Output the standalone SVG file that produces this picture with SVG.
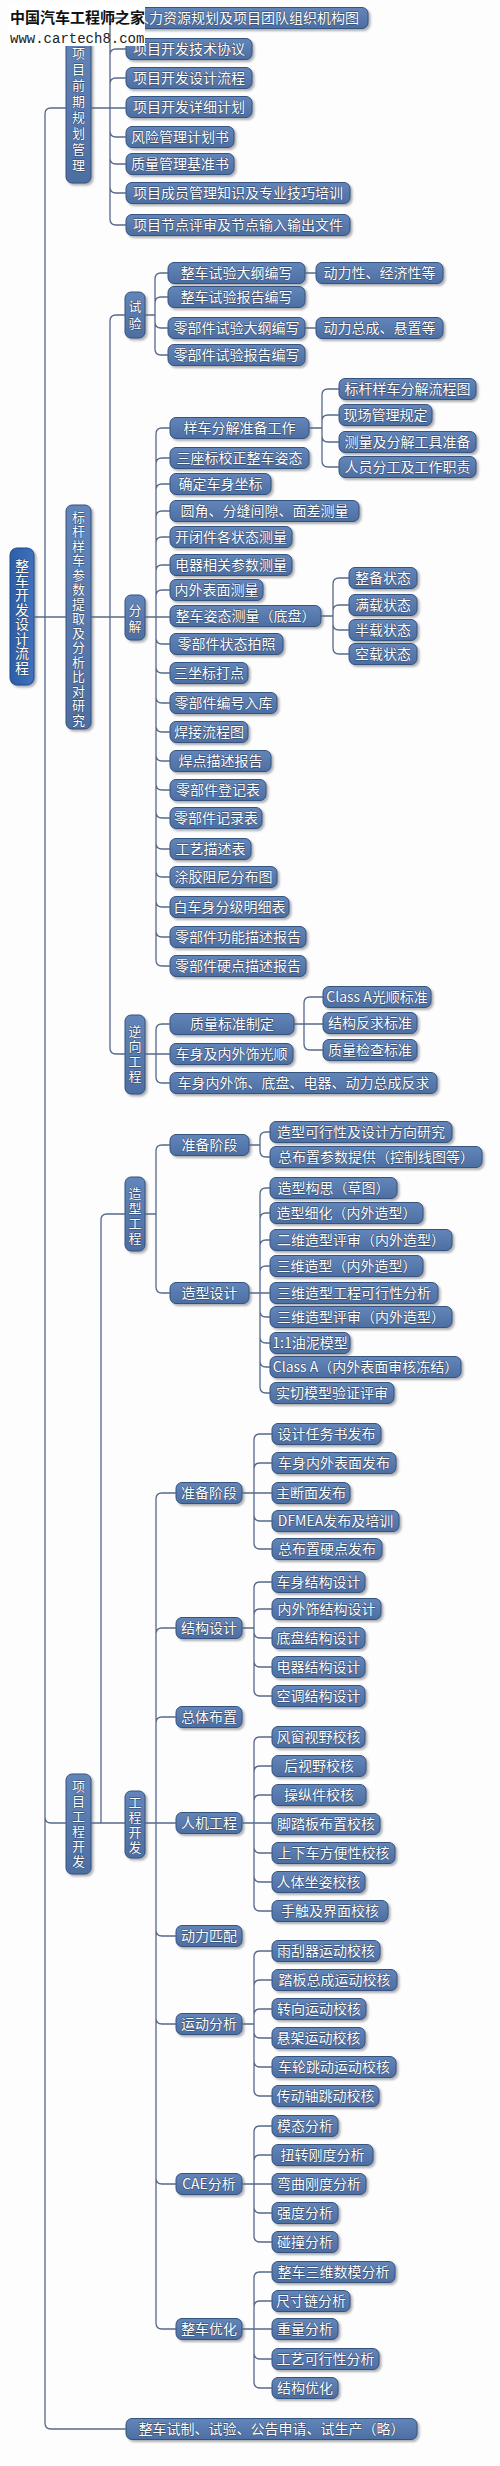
<svg xmlns="http://www.w3.org/2000/svg" width="500" height="2466" viewBox="0 0 500 2466">
<style>
.bg{fill:#fdfdfe}
.b{fill:url(#g);stroke:#34527f;stroke-width:1;rx:6px;filter:url(#ds)}
.r{fill:url(#gr);stroke:#1f4a8a;stroke-width:1;rx:7px;filter:url(#ds)}
.t{font-family:"Noto Sans CJK SC","Noto Sans",sans-serif;font-size:14px;fill:#fff;text-anchor:middle;stroke:#2b4266;stroke-width:0.8px;paint-order:stroke}
.v{font-family:"Noto Sans CJK SC","Noto Sans",sans-serif;font-size:13px;fill:#fff;text-anchor:middle;stroke:#2b4266;stroke-width:0.8px;paint-order:stroke}
.c{fill:none;stroke:#56698a;stroke-width:1.3}
.w1{font-family:"Noto Sans CJK SC",sans-serif;font-size:15px;font-weight:bold;fill:#111}
.w2{font-family:"Liberation Mono",monospace;font-size:14px;fill:#222}
</style>
<defs>
<linearGradient id="g" x1="0" y1="0" x2="0" y2="1"><stop offset="0" stop-color="#6386ba"/><stop offset="1" stop-color="#4d6ea2"/></linearGradient>
<linearGradient id="gr" x1="0" y1="0" x2="1" y2="0"><stop offset="0" stop-color="#2c5ea8"/><stop offset="1" stop-color="#3f72bd"/></linearGradient>
<filter id="ds" x="-20%" y="-30%" width="150%" height="170%"><feDropShadow dx="2" dy="2" stdDeviation="1" flood-color="#4a4f58" flood-opacity="0.45"/></filter>
</defs>
<rect class="bg" x="0" y="0" width="500" height="2466"/>

<g id="nodes">
<g id="n-root"><rect class="r" x="10" y="548" width="24" height="137"/><text class="t" x="22 22 22 22 22 22 22 22" y="571 585.5 600 614.5 629 643.5 658 672.5">整车开发设计流程</text></g>

<g id="n-a"><rect class="b" x="66" y="30" width="25" height="153"/><text class="v" x="78.5 78.5 78.5 78.5 78.5 78.5 78.5 78.5" y="58 74 90 106 122 138 154 170">项目前期规划管理</text></g>
<g id="n-a1"><rect class="b" x="126" y="7.5" width="242" height="21"/><text class="t" x="247" y="23">人力资源规划及项目团队组织机构图</text></g>
<g id="n-a2"><rect class="b" x="126" y="38.5" width="126" height="21"/><text class="t" x="189" y="54">项目开发技术协议</text></g>
<g id="n-a3"><rect class="b" x="126" y="67.5" width="126" height="21"/><text class="t" x="189" y="83">项目开发设计流程</text></g>
<g id="n-a4"><rect class="b" x="126" y="96.5" width="126" height="21"/><text class="t" x="189" y="112">项目开发详细计划</text></g>
<g id="n-a5"><rect class="b" x="126" y="126.5" width="108" height="21"/><text class="t" x="180" y="142">风险管理计划书</text></g>
<g id="n-a6"><rect class="b" x="126" y="153.5" width="108" height="21"/><text class="t" x="180" y="169">质量管理基准书</text></g>
<g id="n-a7"><rect class="b" x="126" y="182.5" width="224" height="21"/><text class="t" x="238" y="198">项目成员管理知识及专业技巧培训</text></g>
<g id="n-a8"><rect class="b" x="126" y="214.5" width="224" height="21"/><text class="t" x="238" y="230">项目节点评审及节点输入输出文件</text></g>

<g id="n-b"><rect class="b" x="66" y="505" width="25" height="224"/><text class="v" x="78.5 78.5 78.5 78.5 78.5 78.5 78.5 78.5 78.5 78.5 78.5 78.5 78.5 78.5 78.5" y="521.5 536 550.5 565 579.5 594 608.5 623 637.5 652 666.5 681 695.5 710 724.5">标杆样车参数提取及分析比对研究</text></g>

<g id="n-t"><rect class="b" x="125" y="292" width="20" height="46"/><text class="v" x="135 135" y="310.5 327.5">试验</text></g>
<g id="n-t1"><rect class="b" x="168" y="262.5" width="137" height="21"/><text class="t" x="236.5" y="278">整车试验大纲编写</text></g>
<g id="n-t2"><rect class="b" x="168" y="286.5" width="137" height="21"/><text class="t" x="236.5" y="302">整车试验报告编写</text></g>
<g id="n-t3"><rect class="b" x="168" y="317.5" width="137" height="21"/><text class="t" x="236.5" y="333">零部件试验大纲编写</text></g>
<g id="n-t4"><rect class="b" x="168" y="344.5" width="137" height="21"/><text class="t" x="236.5" y="360">零部件试验报告编写</text></g>
<g id="n-t1a"><rect class="b" x="316" y="262.5" width="127" height="21"/><text class="t" x="379.5" y="278">动力性、经济性等</text></g>
<g id="n-t3a"><rect class="b" x="316" y="317.5" width="127" height="21"/><text class="t" x="379.5" y="333">动力总成、悬置等</text></g>

<g id="n-d"><rect class="b" x="125" y="595" width="20" height="45"/><text class="v" x="135 135" y="614.5 630.5">分解</text></g>
<g id="n-d1"><rect class="b" x="170" y="417.5" width="139" height="21"/><text class="t" x="239.5" y="433">样车分解准备工作</text></g>
<g id="n-d2"><rect class="b" x="170" y="447.5" width="139" height="21"/><text class="t" x="239.5" y="463">三座标校正整车姿态</text></g>
<g id="n-d3"><rect class="b" x="170" y="473.5" width="101" height="21"/><text class="t" x="220.5" y="489">确定车身坐标</text></g>
<g id="n-d4"><rect class="b" x="170" y="500.5" width="189" height="21"/><text class="t" x="264.5" y="516">圆角、分缝间隙、面差测量</text></g>
<g id="n-d5"><rect class="b" x="170" y="526.5" width="122" height="21"/><text class="t" x="231" y="542">开闭件各状态测量</text></g>
<g id="n-d6"><rect class="b" x="170" y="554.5" width="122" height="21"/><text class="t" x="231" y="570">电器相关参数测量</text></g>
<g id="n-d7"><rect class="b" x="170" y="579.5" width="93" height="21"/><text class="t" x="216.5" y="595">内外表面测量</text></g>
<g id="n-d8"><rect class="b" x="170" y="605.5" width="151" height="21"/><text class="t" x="245.5" y="621">整车姿态测量（底盘）</text></g>
<g id="n-d9"><rect class="b" x="170" y="633.5" width="113" height="21"/><text class="t" x="226.5" y="649">零部件状态拍照</text></g>
<g id="n-d10"><rect class="b" x="170" y="662.5" width="78" height="21"/><text class="t" x="209" y="678">三坐标打点</text></g>
<g id="n-d11"><rect class="b" x="170" y="692.5" width="107" height="21"/><text class="t" x="223.5" y="708">零部件编号入库</text></g>
<g id="n-d12"><rect class="b" x="170" y="721.5" width="78" height="21"/><text class="t" x="209" y="737">焊接流程图</text></g>
<g id="n-d13"><rect class="b" x="170" y="750.5" width="101" height="21"/><text class="t" x="220.5" y="766">焊点描述报告</text></g>
<g id="n-d14"><rect class="b" x="170" y="779.5" width="96" height="21"/><text class="t" x="218" y="795">零部件登记表</text></g>
<g id="n-d15"><rect class="b" x="170" y="807.5" width="92" height="21"/><text class="t" x="216" y="823">零部件记录表</text></g>
<g id="n-d16"><rect class="b" x="170" y="838.5" width="81" height="21"/><text class="t" x="210.5" y="854">工艺描述表</text></g>
<g id="n-d17"><rect class="b" x="170" y="866.5" width="107" height="21"/><text class="t" x="223.5" y="882">涂胶阻尼分布图</text></g>
<g id="n-d18"><rect class="b" x="170" y="896.5" width="119" height="21"/><text class="t" x="229.5" y="912">白车身分级明细表</text></g>
<g id="n-d19"><rect class="b" x="170" y="926.5" width="136" height="21"/><text class="t" x="238" y="942">零部件功能描述报告</text></g>
<g id="n-d20"><rect class="b" x="170" y="955.5" width="136" height="21"/><text class="t" x="238" y="971">零部件硬点描述报告</text></g>
<g id="n-d1a"><rect class="b" x="339" y="378.5" width="137" height="21"/><text class="t" x="407.5" y="394">标杆样车分解流程图</text></g>
<g id="n-d1b"><rect class="b" x="339" y="404.5" width="93" height="21"/><text class="t" x="385.5" y="420">现场管理规定</text></g>
<g id="n-d1c"><rect class="b" x="339" y="431.5" width="137" height="21"/><text class="t" x="407.5" y="447">测量及分解工具准备</text></g>
<g id="n-d1d"><rect class="b" x="339" y="456.5" width="137" height="21"/><text class="t" x="407.5" y="472">人员分工及工作职责</text></g>
<g id="n-d8a"><rect class="b" x="349" y="567.5" width="68" height="21"/><text class="t" x="383" y="583">整备状态</text></g>
<g id="n-d8b"><rect class="b" x="349" y="594.5" width="68" height="21"/><text class="t" x="383" y="610">满载状态</text></g>
<g id="n-d8c"><rect class="b" x="349" y="619.5" width="68" height="21"/><text class="t" x="383" y="635">半载状态</text></g>
<g id="n-d8d"><rect class="b" x="349" y="643.5" width="68" height="21"/><text class="t" x="383" y="659">空载状态</text></g>

<g id="n-r"><rect class="b" x="125" y="1015" width="20" height="79"/><text class="v" x="135 135 135 135" y="1035.5 1050.5 1065.5 1080.5">逆向工程</text></g>
<g id="n-r1"><rect class="b" x="170" y="1013.5" width="124" height="21"/><text class="t" x="232" y="1029">质量标准制定</text></g>
<g id="n-r2"><rect class="b" x="170" y="1043.5" width="123" height="21"/><text class="t" x="231.5" y="1059">车身及内外饰光顺</text></g>
<g id="n-r3"><rect class="b" x="170" y="1072.5" width="267" height="21"/><text class="t" x="303.5" y="1088">车身内外饰、底盘、电器、动力总成反求</text></g>
<g id="n-r1a"><rect class="b" x="323" y="986.5" width="108" height="21"/><text class="t" x="377" y="1002">Class A光顺标准</text></g>
<g id="n-r1b"><rect class="b" x="323" y="1012.5" width="94" height="21"/><text class="t" x="370" y="1028">结构反求标准</text></g>
<g id="n-r1c"><rect class="b" x="323" y="1039.5" width="94" height="21"/><text class="t" x="370" y="1055">质量检查标准</text></g>

<g id="n-c"><rect class="b" x="66" y="1774" width="25" height="100"/><text class="v" x="78.5 78.5 78.5 78.5 78.5 78.5" y="1790.5 1805.5 1820.5 1835.5 1850.5 1865.5">项目工程开发</text></g>

<g id="n-s"><rect class="b" x="125" y="1177" width="20" height="74"/><text class="v" x="135 135 135 135" y="1197.5 1212.5 1227.5 1242.5">造型工程</text></g>
<g id="n-s1"><rect class="b" x="170" y="1134.5" width="79" height="21"/><text class="t" x="209.5" y="1150">准备阶段</text></g>
<g id="n-s2"><rect class="b" x="170" y="1282.5" width="79" height="21"/><text class="t" x="209.5" y="1298">造型设计</text></g>
<g id="n-s1a"><rect class="b" x="270" y="1121.5" width="182" height="21"/><text class="t" x="361" y="1137">造型可行性及设计方向研究</text></g>
<g id="n-s1b"><rect class="b" x="270" y="1146.5" width="212" height="21"/><text class="t" x="376" y="1162">总布置参数提供（控制线图等）</text></g>
<g id="n-s2a"><rect class="b" x="270" y="1177.5" width="127" height="21"/><text class="t" x="333.5" y="1193">造型构思（草图）</text></g>
<g id="n-s2b"><rect class="b" x="270" y="1202.5" width="153" height="21"/><text class="t" x="346.5" y="1218">造型细化（内外造型）</text></g>
<g id="n-s2c"><rect class="b" x="270" y="1229.5" width="182" height="21"/><text class="t" x="361" y="1245">二维造型评审（内外造型）</text></g>
<g id="n-s2d"><rect class="b" x="270" y="1255.5" width="153" height="21"/><text class="t" x="346.5" y="1271">三维造型（内外造型）</text></g>
<g id="n-s2e"><rect class="b" x="270" y="1282.5" width="168" height="21"/><text class="t" x="354" y="1298">三维造型工程可行性分析</text></g>
<g id="n-s2f"><rect class="b" x="270" y="1306.5" width="182" height="21"/><text class="t" x="361" y="1322">三维造型评审（内外造型）</text></g>
<g id="n-s2g"><rect class="b" x="270" y="1332.5" width="80" height="21"/><text class="t" x="310" y="1348">1:1油泥模型</text></g>
<g id="n-s2h"><rect class="b" x="270" y="1356.5" width="191" height="21"/><text class="t" x="365.5" y="1372">Class A（内外表面审核冻结）</text></g>
<g id="n-s2i"><rect class="b" x="270" y="1382.5" width="124" height="21"/><text class="t" x="332" y="1398">实切模型验证评审</text></g>

<g id="n-e"><rect class="b" x="125" y="1791" width="20" height="67"/><text class="v" x="135 135 135 135" y="1806.5 1821.5 1836.5 1851.5">工程开发</text></g>
<g id="n-e1"><rect class="b" x="176" y="1482.5" width="66" height="21"/><text class="t" x="209" y="1498">准备阶段</text></g>
<g id="n-e2"><rect class="b" x="176" y="1617.5" width="66" height="21"/><text class="t" x="209" y="1633">结构设计</text></g>
<g id="n-e3"><rect class="b" x="176" y="1706.5" width="66" height="21"/><text class="t" x="209" y="1722">总体布置</text></g>
<g id="n-e4"><rect class="b" x="176" y="1812.5" width="66" height="21"/><text class="t" x="209" y="1828">人机工程</text></g>
<g id="n-e5"><rect class="b" x="176" y="1925.5" width="66" height="21"/><text class="t" x="209" y="1941">动力匹配</text></g>
<g id="n-e6"><rect class="b" x="176" y="2013.5" width="66" height="21"/><text class="t" x="209" y="2029">运动分析</text></g>
<g id="n-e7"><rect class="b" x="176" y="2173.5" width="66" height="21"/><text class="t" x="209" y="2189">CAE分析</text></g>
<g id="n-e8"><rect class="b" x="176" y="2318.5" width="66" height="21"/><text class="t" x="209" y="2334">整车优化</text></g>

<g id="n-e1a"><rect class="b" x="272" y="1423.5" width="109" height="21"/><text class="t" x="326.5" y="1439">设计任务书发布</text></g>
<g id="n-e1b"><rect class="b" x="272" y="1452.5" width="124" height="21"/><text class="t" x="334" y="1468">车身内外表面发布</text></g>
<g id="n-e1c"><rect class="b" x="272" y="1482.5" width="78" height="21"/><text class="t" x="311" y="1498">主断面发布</text></g>
<g id="n-e1d"><rect class="b" x="272" y="1510.5" width="127" height="21"/><text class="t" x="335.5" y="1526">DFMEA发布及培训</text></g>
<g id="n-e1e"><rect class="b" x="272" y="1538.5" width="110" height="21"/><text class="t" x="327" y="1554">总布置硬点发布</text></g>

<g id="n-e2a"><rect class="b" x="272" y="1571.5" width="93" height="21"/><text class="t" x="318.5" y="1587">车身结构设计</text></g>
<g id="n-e2b"><rect class="b" x="272" y="1598.5" width="109" height="21"/><text class="t" x="326.5" y="1614">内外饰结构设计</text></g>
<g id="n-e2c"><rect class="b" x="272" y="1627.5" width="93" height="21"/><text class="t" x="318.5" y="1643">底盘结构设计</text></g>
<g id="n-e2d"><rect class="b" x="272" y="1656.5" width="93" height="21"/><text class="t" x="318.5" y="1672">电器结构设计</text></g>
<g id="n-e2e"><rect class="b" x="272" y="1685.5" width="93" height="21"/><text class="t" x="318.5" y="1701">空调结构设计</text></g>

<g id="n-e4a"><rect class="b" x="272" y="1726.5" width="93" height="21"/><text class="t" x="318.5" y="1742">风窗视野校核</text></g>
<g id="n-e4b"><rect class="b" x="272" y="1755.5" width="94" height="21"/><text class="t" x="319" y="1771">后视野校核</text></g>
<g id="n-e4c"><rect class="b" x="272" y="1784.5" width="94" height="21"/><text class="t" x="319" y="1800">操纵件校核</text></g>
<g id="n-e4d"><rect class="b" x="272" y="1813.5" width="108" height="21"/><text class="t" x="326" y="1829">脚踏板布置校核</text></g>
<g id="n-e4e"><rect class="b" x="272" y="1842.5" width="123" height="21"/><text class="t" x="333.5" y="1858">上下车方便性校核</text></g>
<g id="n-e4f"><rect class="b" x="272" y="1871.5" width="93" height="21"/><text class="t" x="318.5" y="1887">人体坐姿校核</text></g>
<g id="n-e4g"><rect class="b" x="272" y="1900.5" width="116" height="21"/><text class="t" x="330" y="1916">手触及界面校核</text></g>

<g id="n-e6a"><rect class="b" x="272" y="1940.5" width="108" height="21"/><text class="t" x="326" y="1956">雨刮器运动校核</text></g>
<g id="n-e6b"><rect class="b" x="272" y="1969.5" width="125" height="21"/><text class="t" x="334.5" y="1985">踏板总成运动校核</text></g>
<g id="n-e6c"><rect class="b" x="272" y="1998.5" width="94" height="21"/><text class="t" x="319" y="2014">转向运动校核</text></g>
<g id="n-e6d"><rect class="b" x="272" y="2027.5" width="93" height="21"/><text class="t" x="318.5" y="2043">悬架运动校核</text></g>
<g id="n-e6e"><rect class="b" x="272" y="2056.5" width="124" height="21"/><text class="t" x="334" y="2072">车轮跳动运动校核</text></g>
<g id="n-e6f"><rect class="b" x="272" y="2085.5" width="107" height="21"/><text class="t" x="325.5" y="2101">传动轴跳动校核</text></g>

<g id="n-e7a"><rect class="b" x="272" y="2115.5" width="66" height="21"/><text class="t" x="305" y="2131">模态分析</text></g>
<g id="n-e7b"><rect class="b" x="272" y="2144.5" width="101" height="21"/><text class="t" x="322.5" y="2160">扭转刚度分析</text></g>
<g id="n-e7c"><rect class="b" x="272" y="2173.5" width="94" height="21"/><text class="t" x="319" y="2189">弯曲刚度分析</text></g>
<g id="n-e7d"><rect class="b" x="272" y="2202.5" width="66" height="21"/><text class="t" x="305" y="2218">强度分析</text></g>
<g id="n-e7e"><rect class="b" x="272" y="2231.5" width="66" height="21"/><text class="t" x="305" y="2247">碰撞分析</text></g>

<g id="n-e8a"><rect class="b" x="272" y="2261.5" width="123" height="21"/><text class="t" x="333.5" y="2277">整车三维数模分析</text></g>
<g id="n-e8b"><rect class="b" x="272" y="2290.5" width="78" height="21"/><text class="t" x="311" y="2306">尺寸链分析</text></g>
<g id="n-e8c"><rect class="b" x="272" y="2318.5" width="66" height="21"/><text class="t" x="305" y="2334">重量分析</text></g>
<g id="n-e8d"><rect class="b" x="272" y="2348.5" width="107" height="21"/><text class="t" x="325.5" y="2364">工艺可行性分析</text></g>
<g id="n-e8e"><rect class="b" x="272" y="2377.5" width="66" height="21"/><text class="t" x="305" y="2393">结构优化</text></g>

<g id="n-f"><rect class="b" x="126" y="2418.5" width="291" height="21"/><text class="t" x="271.5" y="2434">整车试制、试验、公告申请、试生产（略）</text></g>
</g>

<rect x="8" y="4" width="137" height="42" fill="#ffffff"/>

<g id="connectors">
<path class="c" d="M34 617H66 M45 617V114Q45 108 51 108H66 M45 617V1817Q45 1823 51 1823H66 M45 617V2423Q45 2429 51 2429H126"/>
<path class="c" d="M91 108H110V24Q110 18 116 18H126 M110 108V55Q110 49 116 49H126 M110 108V84Q110 78 116 78H126 M91 108H126 M110 108V131Q110 137 116 137H126 M110 108V158Q110 164 116 164H126 M110 108V187Q110 193 116 193H126 M110 108V219Q110 225 116 225H126"/>
<path class="c" d="M91 617H125 M110 617V321Q110 315 116 315H125 M110 617V1048Q110 1054 116 1054H125"/>
<path class="c" d="M145 315H155V279Q155 273 161 273H168 M155 315V303Q155 297 161 297H168 M155 315V322Q155 328 161 328H168 M155 315V349Q155 355 161 355H168 M305 273H316 M305 328H316"/>
<path class="c" d="M145 617H170 M156 617V434Q156 428 162 428H170 M156 617V464Q156 458 162 458H170 M156 617V490Q156 484 162 484H170 M156 617V517Q156 511 162 511H170 M156 617V543Q156 537 162 537H170 M156 617V571Q156 565 162 565H170 M156 617V596Q156 590 162 590H170 M156 617V638Q156 644 162 644H170 M156 617V667Q156 673 162 673H170 M156 617V697Q156 703 162 703H170 M156 617V726Q156 732 162 732H170 M156 617V755Q156 761 162 761H170 M156 617V784Q156 790 162 790H170 M156 617V812Q156 818 162 818H170 M156 617V843Q156 849 162 849H170 M156 617V871Q156 877 162 877H170 M156 617V901Q156 907 162 907H170 M156 617V931Q156 937 162 937H170 M156 617V960Q156 966 162 966H170"/>
<path class="c" d="M309 428H322V395Q322 389 328 389H339 M322 428V421Q322 415 328 415H339 M322 428V436Q322 442 328 442H339 M322 428V461Q322 467 328 467H339"/>
<path class="c" d="M321 616H333V584Q333 578 339 578H349 M333 616V611Q333 605 339 605H349 M333 616V624Q333 630 339 630H349 M333 616V648Q333 654 339 654H349"/>
<path class="c" d="M145 1054H170 M156 1054V1030Q156 1024 162 1024H170 M156 1054V1077Q156 1083 162 1083H170"/>
<path class="c" d="M294 1024H323 M304 1024V1003Q304 997 310 997H323 M304 1024V1044Q304 1050 310 1050H323"/>
<path class="c" d="M91 1823H125 M101 1823V1220Q101 1214 107 1214H125"/>
<path class="c" d="M145 1214H156V1151Q156 1145 162 1145H170 M156 1214V1287Q156 1293 162 1293H170"/>
<path class="c" d="M249 1145H260V1138Q260 1132 266 1132H270 M260 1145V1151Q260 1157 266 1157H270"/>
<path class="c" d="M249 1293H270 M260 1293V1194Q260 1188 266 1188H270 M260 1293V1219Q260 1213 266 1213H270 M260 1293V1246Q260 1240 266 1240H270 M260 1293V1272Q260 1266 266 1266H270 M260 1293V1311Q260 1317 266 1317H270 M260 1293V1337Q260 1343 266 1343H270 M260 1293V1361Q260 1367 266 1367H270 M260 1293V1387Q260 1393 266 1393H270"/>
<path class="c" d="M145 1823H176 M156 1823V1499Q156 1493 162 1493H176 M156 1823V1634Q156 1628 162 1628H176 M156 1823V1723Q156 1717 162 1717H176 M156 1823V1930Q156 1936 162 1936H176 M156 1823V2018Q156 2024 162 2024H176 M156 1823V2178Q156 2184 162 2184H176 M156 1823V2323Q156 2329 162 2329H176"/>
<path class="c" d="M242 1493H272 M254 1493V1440Q254 1434 260 1434H272 M254 1493V1469Q254 1463 260 1463H272 M254 1493V1515Q254 1521 260 1521H272 M254 1493V1543Q254 1549 260 1549H272"/>
<path class="c" d="M242 1628H254V1588Q254 1582 260 1582H272 M254 1628V1615Q254 1609 260 1609H272 M254 1628V1632Q254 1638 260 1638H272 M254 1628V1661Q254 1667 260 1667H272 M254 1628V1690Q254 1696 260 1696H272"/>
<path class="c" d="M242 1823H272 M254 1823V1743Q254 1737 260 1737H272 M254 1823V1772Q254 1766 260 1766H272 M254 1823V1801Q254 1795 260 1795H272 M254 1823V1847Q254 1853 260 1853H272 M254 1823V1876Q254 1882 260 1882H272 M254 1823V1905Q254 1911 260 1911H272"/>
<path class="c" d="M242 2024H254V1957Q254 1951 260 1951H272 M254 2024V1986Q254 1980 260 1980H272 M254 2024V2015Q254 2009 260 2009H272 M254 2024V2032Q254 2038 260 2038H272 M254 2024V2061Q254 2067 260 2067H272 M254 2024V2090Q254 2096 260 2096H272"/>
<path class="c" d="M242 2184H272 M254 2184V2132Q254 2126 260 2126H272 M254 2184V2161Q254 2155 260 2155H272 M254 2184V2207Q254 2213 260 2213H272 M254 2184V2236Q254 2242 260 2242H272"/>
<path class="c" d="M242 2329H272 M254 2329V2278Q254 2272 260 2272H272 M254 2329V2307Q254 2301 260 2301H272 M254 2329V2353Q254 2359 260 2359H272 M254 2329V2382Q254 2388 260 2388H272"/>
</g>

<g id="watermark">
<text class="w1" x="10" y="23">中国汽车工程师之家</text>
<text class="w2" x="10" y="43">www.cartech8.com</text>
</g>
</svg>
